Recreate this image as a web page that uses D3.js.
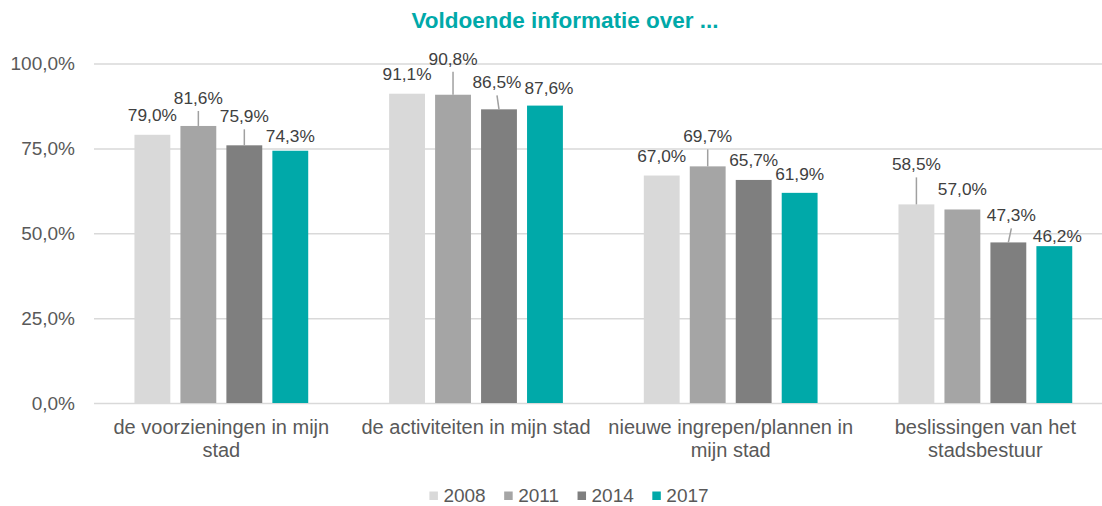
<!DOCTYPE html>
<html>
<head>
<meta charset="utf-8">
<script src="https://cdn.jsdelivr.net/npm/d3@7"></script>
<style>
  html, body { margin: 0; padding: 0; background: #fff; }
  svg { display: block; font-family: "Liberation Sans", Arial, sans-serif; }
</style>
</head>
<body>
<svg id="chart" width="1102" height="506"></svg>
<script>
// ---- data ----
const categories = [
  "de voorzieningen in mijn stad",
  "de activiteiten in mijn stad",
  "nieuwe ingrepen/plannen in mijn stad",
  "beslissingen van het stadsbestuur"
];
const years = ["2008", "2011", "2014", "2017"];
const values2008 = [79.0, 91.1, 67.0, 58.5];
const values2011 = [81.6, 90.8, 69.7, 57.0];
const values2014 = [75.9, 86.5, 65.7, 47.3];
const values2017 = [74.3, 87.6, 61.9, 46.2];
const yTickValues = [0, 25, 50, 75, 100];
const title = "Voldoende informatie over ...";

// ---- styling / label placement ----
const seriesColors = ["#d9d9d9", "#a5a5a5", "#7f7f7f", "#00a9a9"];
// how far each value label sits above its bar top (px), per year
const labelLift = [
  [14, 14, 14, 34],
  [22, 30, 24, 14],
  [23, 21, 14, 21],
  [9, 12, 13, 4]
];
// horizontal nudge of each value label (px), per year
const labelShift = [
  [0, 0, 0, 0],
  [0, 0, 0, 0],
  [0, -2, 0, 3],
  [0, 4, 0, 3]
];

const series = years.map((yr, i) => ({
  year: yr,
  values: [values2008, values2011, values2014, values2017][i]
}));

const svg = d3.select("#chart");
const plotLeft = 94, plotRight = 1112.7;
const plotTop = 63.5, plotBottom = 403;

const x0 = d3.scaleBand().domain(categories).range([plotLeft, plotRight]);
const x1 = d3.scaleBand().domain(years).range([0, x0.bandwidth()])
  .paddingInner(0.22).paddingOuter(0.88);
const y = d3.scaleLinear().domain([0, 100]).range([plotBottom, plotTop]);
const color = d3.scaleOrdinal().domain(years).range(seriesColors);

const fmt = v => v.toFixed(1).replace(".", ",") + "%";

// title
svg.append("text")
  .attr("x", 565).attr("y", 28)
  .attr("text-anchor", "middle")
  .attr("font-size", "22.5px").attr("font-weight", "bold")
  .attr("fill", "#00a9a9")
  .text(title);

// y axis with gridlines
const yAxis = svg.append("g")
  .attr("transform", `translate(${plotLeft},0)`)
  .call(d3.axisLeft(y).tickValues(yTickValues)
    .tickFormat(fmt)
    .tickSize(-(plotRight - plotLeft))
    .tickPadding(19));
yAxis.select(".domain").remove();
yAxis.selectAll(".tick line").attr("stroke", "#d9d9d9").attr("stroke-width", 1.5);
yAxis.selectAll(".tick text")
  .attr("fill", "#595959").attr("font-size", "19px")
  .attr("font-family", "Liberation Sans, Arial, sans-serif");

// bars
const groups = svg.append("g").selectAll("g")
  .data(series).join("g")
  .attr("fill", d => color(d.year));

groups.selectAll("rect")
  .data(d => d.values.map((v, i) => ({ year: d.year, cat: categories[i], v })))
  .join("rect")
  .attr("x", d => x0(d.cat) + x1(d.year))
  .attr("width", x1.bandwidth())
  .attr("y", d => y(d.v))
  .attr("height", d => y(0) - y(d.v));

// value labels and leader lines
const labelLayer = svg.append("g");
series.forEach((s, si) => {
  s.values.forEach((v, ci) => {
    const cx = x0(categories[ci]) + x1(s.year) + x1.bandwidth() / 2;
    const top = y(v);
    const lift = labelLift[si][ci];
    const lx = cx + labelShift[si][ci];
    const baseline = top - lift;
    if (lift > 18) {
      labelLayer.append("line")
        .attr("x1", cx).attr("y1", top)
        .attr("x2", lx).attr("y2", baseline + 7)
        .attr("stroke", "#a0a0a0").attr("stroke-width", 1.5);
    }
    labelLayer.append("text")
      .attr("x", lx).attr("y", baseline)
      .attr("text-anchor", "middle")
      .attr("font-size", "17.3px")
      .attr("fill", "#404040")
      .text(fmt(v));
  });
});

// category labels, wrapped within the band
const catLayer = svg.append("g");
categories.forEach(cat => {
  const cx = x0(cat) + x0.bandwidth() / 2;
  const words = cat.split(" ");
  const t = catLayer.append("text")
    .attr("text-anchor", "middle")
    .attr("font-size", "20px")
    .attr("fill", "#595959");
  const lines = [];
  let line = [];
  const probe = t.append("tspan");
  words.forEach(w => {
    line.push(w);
    probe.text(line.join(" "));
    if (probe.node().getComputedTextLength() > 250 && line.length > 1) {
      line.pop();
      lines.push(line.join(" "));
      line = [w];
    }
  });
  lines.push(line.join(" "));
  probe.remove();
  lines.forEach((l, i) => {
    t.append("tspan").attr("x", cx).attr("y", 433.5 + i * 23).text(l);
  });
});

// legend
const legend = svg.append("g");
const items = legend.selectAll("g").data(years).join("g");
items.append("rect")
  .attr("width", 8.5).attr("height", 8.5)
  .attr("y", 491.5)
  .attr("fill", d => color(d));
items.append("text")
  .attr("x", 14).attr("y", 501.5)
  .attr("font-size", "19px").attr("fill", "#595959")
  .text(d => d);
let offs = 0;
const widths = [];
items.each(function () {
  const w = 14 + this.querySelector("text").getComputedTextLength();
  widths.push(w);
});
const gap = 18.5;
const total = d3.sum(widths) + gap * (widths.length - 1);
let startX = 569 - total / 2;
items.attr("transform", (d, i) => {
  const tx = startX + offs;
  offs += widths[i] + gap;
  return `translate(${tx},0)`;
});
</script>
</body>
</html>
